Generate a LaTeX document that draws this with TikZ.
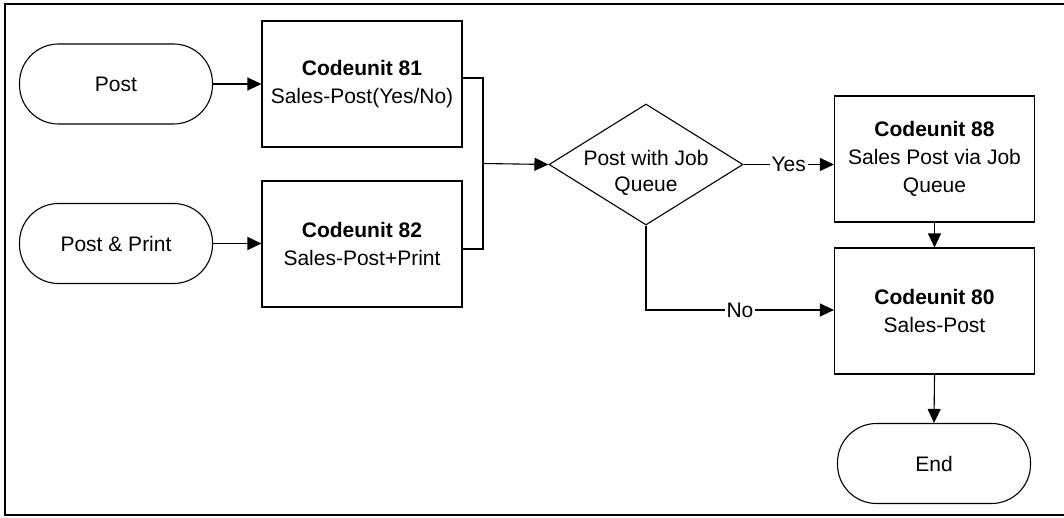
\documentclass[tikz,border=0pt]{standalone}
\usepackage{fontspec}
\setmainfont{Liberation Sans}
\usetikzlibrary{shapes.geometric,arrows.meta}
\begin{document}
\begin{tikzpicture}[x=0.5pt,y=-0.5pt,
  every node/.style={font=\fontsize{10.5}{14}\selectfont},
  term/.style={draw,line width=0.55pt,rounded corners=19.5pt,minimum width=96.5pt,minimum height=40pt,inner sep=0pt},
  proc/.style={draw,line width=0.55pt,minimum width=100pt,minimum height=63pt,inner sep=0pt,align=center},
  dec/.style={draw,diamond,line width=0.55pt,minimum width=97pt,minimum height=60.5pt,inner sep=0pt,aspect=1.6},
  arr/.style={line width=0.55pt,-{Triangle[length=7pt,width=6.5pt]}},
  lbl/.style={fill=white,inner sep=1pt}]
\useasboundingbox (0,0) rectangle (1064,518);
\draw[line width=1pt] (1080,4.5) -- (5,4.5) -- (5,515) -- (1080,515);
\node[term] (post) at (116,84) {Post};
\node[term] (pp) at (116,243.5) {Post \& Print};
\node[proc] (c81) at (362,84) {\textbf{Codeunit 81}\\Sales-Post(Yes/No)};
\node[proc] (c82) at (362,244) {\textbf{Codeunit 82}\\Sales-Post+Print};
\node[dec,label={[yshift=-4pt]center:{\begin{tabular}{@{}c@{}}Post with Job\\[-1pt]Queue\end{tabular}}}] (dq) at (646,164.5) {};
\node[proc] (c88) at (934.5,159) {\textbf{Codeunit 88}\\Sales Post via Job\\Queue};
\node[proc] (c80) at (934.5,311) {\textbf{Codeunit 80}\\Sales-Post};
\node[term] (end) at (934,463.5) {End};
\coordinate (j) at (483,163.5);
\draw[arr] (post) -- (c81);
\draw[arr] (pp) -- (pp -| c82.west);
\draw[line width=0.55pt] ([yshift=3pt]c81.east) -| (j);
\draw[line width=0.55pt] ([yshift=-2.5pt]c82.east) -| (j);
\draw[arr] (j) -- (dq.west);
\draw[arr] (dq.east) -- node[lbl] {Yes} (dq.east -| c88.west);
\draw[arr] (dq.south) |- node[lbl,pos=0.75] {No} ([yshift=0.5pt]c80.west);
\draw[arr] (c88) -- (c80);
\draw[arr] (c80.south) -- (end.north);
\end{tikzpicture}
\end{document}
